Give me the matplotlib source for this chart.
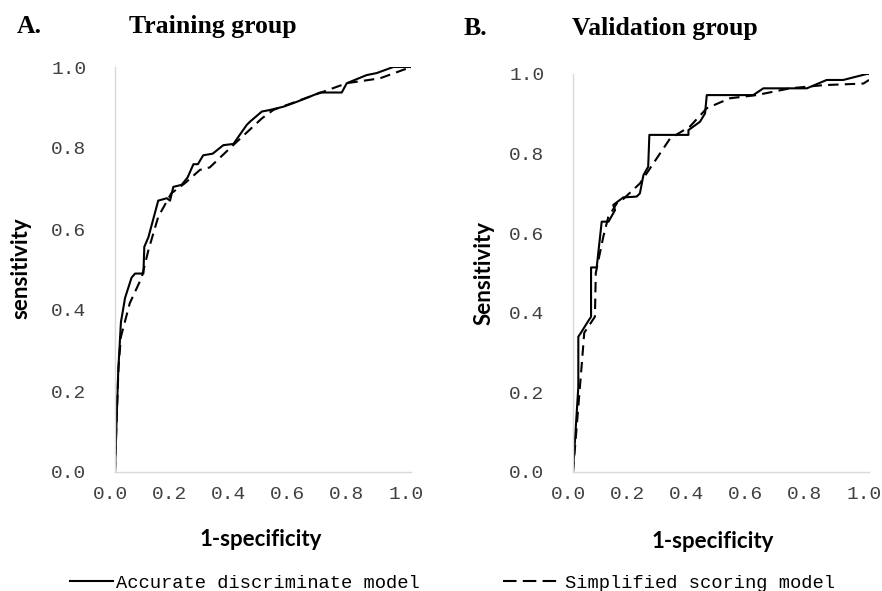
import matplotlib
matplotlib.use("Agg")
import matplotlib.pyplot as plt
import matplotlib.transforms as mtrans
from matplotlib.lines import Line2D

# ---- data ----
train_acc_fpr = [0.0, 0.005, 0.011, 0.02, 0.034, 0.056, 0.068, 0.096, 0.099, 0.113, 0.124, 0.146,
                 0.175, 0.186, 0.197, 0.225, 0.245, 0.265, 0.28, 0.298, 0.33, 0.366, 0.40, 0.445,
                 0.456, 0.496, 0.524, 0.569, 0.614, 0.693, 0.766, 0.783, 0.85, 0.884, 0.94, 1.0]
train_acc_tpr = [0.0, 0.12, 0.25, 0.37, 0.43, 0.48, 0.49, 0.49, 0.556, 0.58, 0.61, 0.67,
                 0.676, 0.67, 0.704, 0.709, 0.727, 0.76, 0.76, 0.782, 0.786, 0.807, 0.81, 0.857,
                 0.865, 0.89, 0.894, 0.902, 0.914, 0.937, 0.937, 0.96, 0.98, 0.985, 1.0, 1.0]

train_simp_fpr = [0.0, 0.005, 0.012, 0.02, 0.05, 0.09, 0.113, 0.146, 0.19, 0.236, 0.287, 0.32,
                  0.389, 0.496, 0.535, 0.67, 0.783, 0.895, 1.0]
train_simp_tpr = [0.0, 0.12, 0.26, 0.334, 0.417, 0.48, 0.548, 0.63, 0.688, 0.713, 0.746, 0.752,
                  0.80, 0.873, 0.894, 0.93, 0.96, 0.972, 1.0]

valid_acc_fpr = [0.0, 0.018, 0.018, 0.027, 0.052, 0.061, 0.061, 0.08, 0.097, 0.12, 0.142, 0.136,
                 0.17, 0.215, 0.226, 0.238, 0.254, 0.258, 0.39, 0.39, 0.429, 0.446, 0.452, 0.609,
                 0.643, 0.79, 0.857, 0.913, 0.992, 1.0]
valid_acc_tpr = [0.0, 0.214, 0.34, 0.35, 0.38, 0.39, 0.514, 0.514, 0.629, 0.629, 0.658, 0.671,
                 0.69, 0.692, 0.70, 0.746, 0.767, 0.847, 0.847, 0.859, 0.88, 0.901, 0.947, 0.947,
                 0.964, 0.964, 0.985, 0.985, 1.0, 1.0]

valid_simp_fpr = [0.0, 0.029, 0.038, 0.074, 0.077, 0.102, 0.119, 0.148, 0.17, 0.226, 0.328, 0.395,
                  0.452, 0.53, 0.62, 0.733, 0.846, 0.981, 1.0]
valid_simp_tpr = [0.0, 0.265, 0.35, 0.39, 0.50, 0.59, 0.64, 0.675, 0.686, 0.725, 0.838, 0.868,
                  0.914, 0.939, 0.947, 0.964, 0.972, 0.976, 0.985]

ticks = [0.0, 0.2, 0.4, 0.6, 0.8, 1.0]
tick_labels = ["0.0", "0.2", "0.4", "0.6", "0.8", "1.0"]

W, H = 882, 591
fig = plt.figure(figsize=(W / 100, H / 100), dpi=100)

tick_font = dict(family="Liberation Mono", size=14)
lab_font = dict(family="Lato", weight="bold", size=16)
title_font = dict(family="Liberation Serif", weight="bold", size=18.5)

shift = mtrans.ScaledTranslation(-5 / 100, 0, fig.dpi_scale_trans)

def setup(ax, ylabel):
    ax.set_xlim(0, 1)
    ax.set_ylim(0, 1)
    for s in ["top", "right"]:
        ax.spines[s].set_visible(False)
    for s in ["left", "bottom"]:
        ax.spines[s].set_color("#d9d9d9")
        ax.spines[s].set_linewidth(1.0)
    ax.set_xticks(ticks)
    ax.set_yticks(ticks)
    ax.set_xticklabels(tick_labels, fontdict=tick_font, color="#404040")
    ax.set_yticklabels(tick_labels, fontdict=tick_font, color="#404040")
    ax.tick_params(axis="both", length=0)
    ax.tick_params(axis="x", pad=10)
    ax.tick_params(axis="y", pad=20.5)
    for lab in ax.get_xticklabels():
        lab.set_transform(lab.get_transform() + shift)
    ax.set_xlabel("1-specificity", fontdict=lab_font)
    ax.set_ylabel(ylabel, fontdict=lab_font)
    ax.xaxis.label.set_va("center")
    ax.yaxis.label.set_va("center")

dash = (0, (5, 3))

axA = fig.add_axes([115 / W, 1 - 472 / H, 296 / W, 405 / H])
axA.plot(train_acc_fpr, train_acc_tpr, color="black", lw=1.5, solid_joinstyle="round")
axA.plot(train_simp_fpr, train_simp_tpr, color="black", lw=1.5, linestyle=dash)
setup(axA, "sensitivity")
axA.yaxis.set_label_coords(21 / W, 1 - 268 / H, transform=fig.transFigure)
axA.xaxis.set_label_coords(261 / W, 1 - 540 / H, transform=fig.transFigure)

axB = fig.add_axes([573 / W, 1 - 472 / H, 296 / W, 398 / H])
axB.plot(valid_acc_fpr, valid_acc_tpr, color="black", lw=1.5, solid_joinstyle="round")
axB.plot(valid_simp_fpr, valid_simp_tpr, color="black", lw=1.5, linestyle=dash)
setup(axB, "Sensitivity")
axB.yaxis.set_label_coords(484.5 / W, 1 - 273 / H, transform=fig.transFigure)
axB.xaxis.set_label_coords(713 / W, 1 - 541 / H, transform=fig.transFigure)

fig.text(17 / W, 1 - 33 / H, "A.", va="baseline", ha="left", **title_font)
fig.text(212.5 / W, 1 - 33 / H, "Training group", va="baseline", ha="center", **title_font)
fig.text(464 / W, 1 - 35 / H, "B.", va="baseline", ha="left", **title_font)
fig.text(664.5 / W, 1 - 35 / H, "Validation group", va="baseline", ha="center", **title_font)

leg_font = {"family": "Liberation Mono", "size": 13.5}
h1 = Line2D([], [], color="black", lw=1.5)
h2 = Line2D([], [], color="black", lw=1.5, linestyle=(0, (6.5, 3)))
fig.legend(handles=[h1], labels=["Accurate discriminate model"], loc="center",
           bbox_to_anchor=(245 / W, 1 - 583 / H), frameon=False, prop=leg_font,
           borderpad=0, handlelength=2.3, handletextpad=0.15)
fig.legend(handles=[h2], labels=["Simplified scoring model"], loc="center",
           bbox_to_anchor=(669 / W, 1 - 583 / H), frameon=False, prop=leg_font,
           borderpad=0, handlelength=3.0, handletextpad=0.3)

fig.savefig("out.png", dpi=100)
